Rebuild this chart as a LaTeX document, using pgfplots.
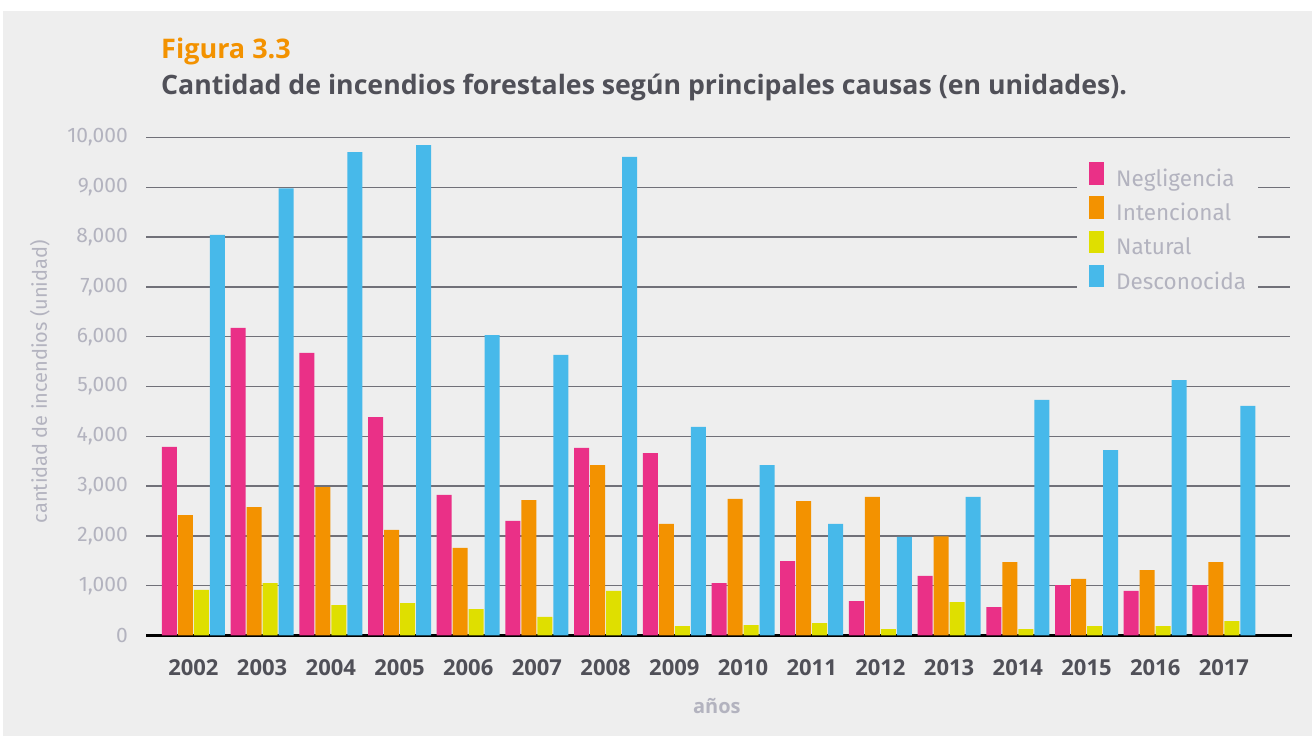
\documentclass[border=0pt]{standalone}
\usepackage{pgfplots}
\pgfplotsset{compat=1.18}
\usepackage{fontspec}
\setmainfont{Fira Sans}
\newfontfamily\boldf{Open Sans}
\definecolor{bg}{HTML}{EEEEEE}
\definecolor{negc}{HTML}{EA3087}
\definecolor{intc}{HTML}{F39200}
\definecolor{natc}{HTML}{DFDF00}
\definecolor{desc}{HTML}{47B9EA}
\definecolor{gridc}{HTML}{707078}
\definecolor{lightt}{HTML}{B3B3BF}
\definecolor{darkt}{HTML}{505058}
\definecolor{titc}{HTML}{F39200}
\begin{document}
\begin{tikzpicture}[x=1pt,y=1pt]
\fill[white] (0,0) rectangle (1315,736);
\fill[bg] (3,0) rectangle (1312,725);
\node[anchor=base west, inner sep=0pt, text=titc, font=\fontsize{27}{32}\selectfont\boldf\bfseries] at (161,677.7) {Figura 3.3};
\node[anchor=base west, inner sep=0pt, text=darkt, font=\fontsize{26.7}{31}\selectfont\boldf\bfseries] at (161,641) {Cantidad de incendios forestales según principales causas (en unidades).};
\begin{axis}[
  at={(146pt,100.5pt)}, anchor=south west,
  scale only axis, width=1144pt, height=497.9pt,
  xmin=-0.69, xmax=15.962, ymin=0, ymax=10000,
  scaled y ticks=false,
  axis lines=left, axis line style={-},
  y axis line style={draw=none},
  x axis line style={black, line width=3pt, shorten >=-2.5pt},
  major tick length=0pt,
  ymajorgrids, grid style={gridc, line width=1.4pt},
  ytick={0,1000,...,10000},
  yticklabels={0,{1,000},{2,000},{3,000},{4,000},{5,000},{6,000},{7,000},{8,000},{9,000},{10,000}},
  yticklabel style={anchor=east, inner sep=0pt, xshift=-18pt, text=lightt, font=\fontsize{21}{25}\selectfont},
  xtick={0,...,15},
  xticklabels={2002,2003,2004,2005,2006,2007,2008,2009,2010,2011,2012,2013,2014,2015,2016,2017},
  xticklabel style={anchor=base, inner sep=0pt, yshift=-40.5pt, text=darkt, font=\fontsize{22}{26}\selectfont\boldf\bfseries},
  xlabel={años},
  xlabel style={at={(rel axis cs:0.499,0)}, anchor=base, inner sep=0pt, yshift=-78.5pt, text=lightt, font=\fontsize{20}{24}\selectfont\boldf\bfseries},
  ylabel={cantidad de incendios (unidad)},
  ylabel style={at={(rel axis cs:0,0.51)}, anchor=center, inner sep=0pt, yshift=106pt, text=lightt, font=\fontsize{20}{24}\selectfont},
  ybar, bar width=15pt,
  legend style={at={(rel axis cs:0.8138,0.975)}, anchor=north west, fill=bg, draw=none,
    inner xsep=12pt, inner ysep=12pt, row sep=8.2pt, column sep=12pt,
    nodes={inner sep=0pt}, text=lightt, font=\fontsize{22.5}{27}\selectfont},
  legend cell align=left,
  mylegend/.style={legend image code/.code={\fill[##1] (0pt,-6pt) rectangle (15pt,16.5pt);}},
]
\addplot[fill=negc, draw=none, bar shift=-24pt, mylegend] coordinates {
(0,3790) (1,6180) (2,5675) (3,4385) (4,2825) (5,2300) (6,3770) (7,3665)
(8,1050) (9,1495) (10,690) (11,1195) (12,570) (13,1010) (14,895) (15,1010)};
\addplot[fill=intc, draw=none, bar shift=-8pt, mylegend] coordinates {
(0,2420) (1,2580) (2,2980) (3,2120) (4,1760) (5,2720) (6,3420) (7,2240)
(8,2745) (9,2700) (10,2785) (11,1990) (12,1475) (13,1135) (14,1315) (15,1475)};
\addplot[fill=natc, draw=none, bar shift=8pt, mylegend] coordinates {
(0,915) (1,1050) (2,610) (3,650) (4,530) (5,375) (6,895) (7,190)
(8,210) (9,250) (10,130) (11,670) (12,130) (13,190) (14,190) (15,290)};
\addplot[fill=desc, draw=none, bar shift=24pt, mylegend] coordinates {
(0,8045) (1,8980) (2,9710) (3,9850) (4,6035) (5,5635) (6,9615) (7,4190)
(8,3420) (9,2240) (10,1980) (11,2785) (12,4730) (13,3725) (14,5130) (15,4610)};
\legend{Negligencia,Intencional,Natural,Desconocida}
\end{axis}
\end{tikzpicture}
\end{document}
